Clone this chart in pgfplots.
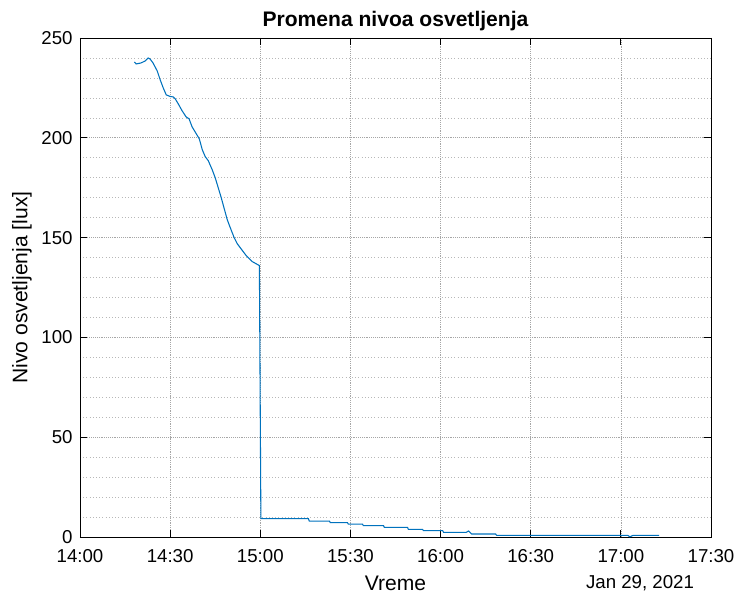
\documentclass[border=0pt]{standalone}
\usepackage{pgfplots}
\pgfplotsset{compat=1.18}
\usepackage{fontspec}
\setmainfont{Liberation Sans}
\definecolor{mblue}{rgb}{0,0.447,0.741}
\begin{document}
\begin{tikzpicture}
\begin{axis}[
  scale only axis,
  width=473.25pt, height=374.25pt,
  xmin=0, xmax=210, ymin=0, ymax=250,
  xtick={0,30,60,90,120,150,180,210},
  xticklabels={14:00,14:30,15:00,15:30,16:00,16:30,17:00,17:30},
  ytick={0,50,100,150,200,250},
  minor y tick num=4,
  minor tick length=0pt,
  major tick length=5pt,
  tick align=inside,
  xtick pos=both, ytick pos=both,
  axis line style={black, line width=0.6pt},
  tick style={black, line width=0.6pt},
  grid=both,
  major grid style={densely dotted, black!35, line width=0.5pt},
  minor grid style={dotted, black!28, line width=0.5pt},
  xmajorgrids, ymajorgrids, yminorgrids, xminorgrids=false,
  tick label style={font=\fontsize{14}{16}\selectfont},
  /pgf/number format/assume math mode=true,
  xticklabel style={yshift=-6pt},
  yticklabel style={xshift=-2pt},
  clip=false,
]
\addplot[mblue, line width=0.8pt] coordinates {
(18.1,238) (18.7,237) (20.3,237.5) (21.7,238.5) (22.7,240) (23.3,239.5) (24.3,237.5)
(25.7,233.5) (26.7,229) (27.7,225) (28.7,221.5) (30,220.7) (31,220.5) (31.7,219.5)
(32.7,217) (34,213.5) (35.3,210.5) (36.3,209.5) (37.3,205.5) (38.7,202) (39.7,199.5)
(40.7,194) (41.7,190.5) (42.7,188.5) (44,184) (45,180) (46,175) (47,170) (48,164.5)
(49,159) (50,155) (51.3,150) (52.3,147) (53.3,145) (55.3,141) (57.3,138) (59.7,136)
(60.2,9.2) (76,9.2) (76.3,8.0) (83,8.0) (83.3,7.2) (89,7.2) (89.3,6.5) (94,6.5)
(94.3,5.7) (101,5.7) (101.3,4.8) (109,4.8) (109.3,3.8) (114,3.8) (114.3,3.2) (120.7,3.2)
(121,2.3) (128.5,2.3) (129.3,3.0) (130.3,1.5) (138.3,1.5) (138.7,0.8) (182.3,0.8)
(183,0.1) (184,0.8) (192.7,0.8)
};
\node[font=\fontsize{15.8}{18}\selectfont, anchor=center] at (rel axis cs:0.5,0) [yshift=-35pt] {Vreme};
\node[font=\fontsize{14}{16}\selectfont, anchor=center] at (rel axis cs:0.8875,0) [yshift=-35pt] {Jan 29, 2021};
\path (rel axis cs:0,0.5) ++(-43.5pt,0pt) node[font=\fontsize{15.8}{18}\selectfont, anchor=center, rotate=90] {Nivo osvetljenja [lux]};
\node[font=\bfseries\fontsize{15.8}{18}\selectfont, anchor=center] at (rel axis cs:0.5,1) [yshift=12.5pt] {Promena nivoa osvetljenja};
\end{axis}
\pgfresetboundingbox
\path[use as bounding box] (current axis.south west) ++(-60pt,-45pt) rectangle ([xshift=19.5pt,yshift=28.5pt]current axis.north east);
\end{tikzpicture}
\end{document}
